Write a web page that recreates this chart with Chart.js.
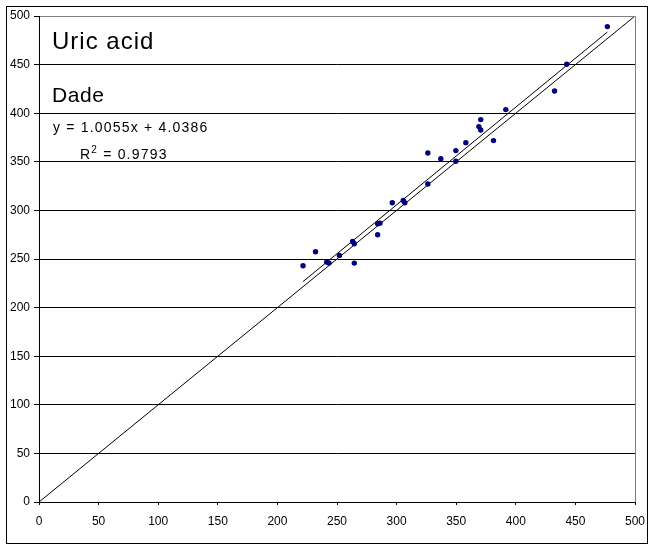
<!DOCTYPE html>
<html>
<head>
<meta charset="utf-8">
<title>Uric acid - Dade</title>
<script src="https://cdn.jsdelivr.net/npm/chart.js@4.4.1/dist/chart.umd.min.js"></script>
<style>
	body {
		margin: 0;
		background: #fff;
	}
</style>
</head>
<body>
<canvas id="uricChart" width="655" height="551"></canvas>
<script>
// valores (referencia en x, Dade en y)
const refValues = [221.5, 232, 241.3, 243.3, 252, 263.1, 264.5, 264.5, 284.1, 284.1,
	286, 296.4, 305.6, 306.9, 326.2, 326.2, 337.1, 349.7, 349.7, 358.1,
	369, 370.6, 370.6, 381.3, 391.6, 432.5, 442.7, 476.8];
const dadeValues = [243.1, 257.5, 246.8, 245.8, 253.7, 268.1, 265.7, 245.8, 275, 286.3,
	286.9, 307.9, 310.3, 307.9, 359, 327.1, 353.2, 361.5, 350.5, 369.7,
	386.2, 382.7, 393.4, 371.8, 403.7, 422.8, 450.3, 489.1];

// recta de regresión y línea de identidad
const slope = 1.0055;
const intercept = 4.0386;
const rSquared = 0.9793;
const identityLine = [0, 500];

// ejes
const axisMin = 0;
const axisMax = 500;
const axisStep = 50;

const chartTitle = 'Uric acid';
const chartSubtitle = 'Dade';

const FONT = '"Liberation Sans", Arial, sans-serif';

const points = refValues.map((x, i) => ({ x: x, y: dadeValues[i] }));
const xMin = Math.min(...refValues);
const xMax = Math.max(...refValues);
const fitLine = [xMin, xMax].map(x => ({ x: x, y: slope * x + intercept }));
const idLine = identityLine.map(v => ({ x: v, y: v }));

// marco exterior, bordes grises y textos
const frameAndText = {
	id: 'frameAndText',
	afterDraw(chart) {
		const { ctx, chartArea } = chart;
		ctx.save();
		ctx.lineWidth = 1;
		ctx.strokeStyle = '#000';
		ctx.strokeRect(6.5, 6.5, 641, 537);

		ctx.strokeStyle = '#808080';
		ctx.beginPath();
		ctx.moveTo(chartArea.left + 1, chartArea.top + 0.5);
		ctx.lineTo(chartArea.right + 0.5, chartArea.top + 0.5);
		ctx.lineTo(chartArea.right + 0.5, chartArea.bottom);
		ctx.stroke();

		ctx.fillStyle = '#000';
		ctx.textBaseline = 'alphabetic';
		ctx.textAlign = 'left';

		ctx.letterSpacing = '1px';
		ctx.font = '24px ' + FONT;
		ctx.fillText(chartTitle, 52, 49);

		ctx.letterSpacing = '0.6px';
		ctx.font = '21px ' + FONT;
		ctx.fillText(chartSubtitle, 52, 102);

		ctx.letterSpacing = '1.2px';
		ctx.font = '14px ' + FONT;
		ctx.fillText('y = ' + slope + 'x + ' + intercept, 53, 132);

		// R² con superíndice
		let x = 80;
		ctx.fillText('R', x, 159);
		x += ctx.measureText('R').width;
		ctx.font = '10px ' + FONT;
		ctx.fillText('2', x, 153);
		x += ctx.measureText('2').width;
		ctx.font = '14px ' + FONT;
		ctx.fillText(' = ' + rSquared, x, 159);
		ctx.restore();
	},
};

const ctx = document.getElementById('uricChart').getContext('2d');

new Chart(ctx, {
	type: 'scatter',
	data: {
		datasets: [
			{
				label: 'Dade',
				data: points,
				backgroundColor: '#000080',
				borderColor: '#000080',
				borderWidth: 0,
				pointRadius: 2.7,
				order: 0,
			},
			{
				label: 'Fit',
				type: 'line',
				data: fitLine,
				borderColor: '#000',
				borderWidth: 1,
				pointRadius: 0,
				fill: false,
				order: 1,
			},
			{
				label: 'Identity',
				type: 'line',
				data: idLine,
				borderColor: '#000',
				borderWidth: 1,
				pointRadius: 0,
				fill: false,
				order: 2,
			},
		],
	},
	options: {
		responsive: false,
		animation: false,
		layout: {
			padding: { top: 16, right: 20, left: 0, bottom: 0 },
		},
		plugins: {
			legend: { display: false },
			tooltip: { enabled: false },
		},
		scales: {
			x: {
				type: 'linear',
				min: axisMin,
				max: axisMax,
				ticks: {
					stepSize: axisStep,
					color: '#000',
					padding: 9,
					maxRotation: 0,
					font: { family: FONT, size: 12 },
				},
				grid: {
					drawOnChartArea: false,
					tickLength: 3,
					color: '#000',
				},
				border: { color: '#000' },
				afterFit(scale) {
					scale.height = 49;
				},
			},
			y: {
				type: 'linear',
				min: axisMin,
				max: axisMax,
				ticks: {
					stepSize: axisStep,
					color: '#000',
					padding: 4,
					font: { family: FONT, size: 12 },
				},
				grid: {
					tickLength: 5,
					color: '#000',
				},
				border: { color: '#000' },
				afterFit(scale) {
					scale.width = 39;
				},
			},
		},
	},
	plugins: [frameAndText],
});
</script>
</body>
</html>
